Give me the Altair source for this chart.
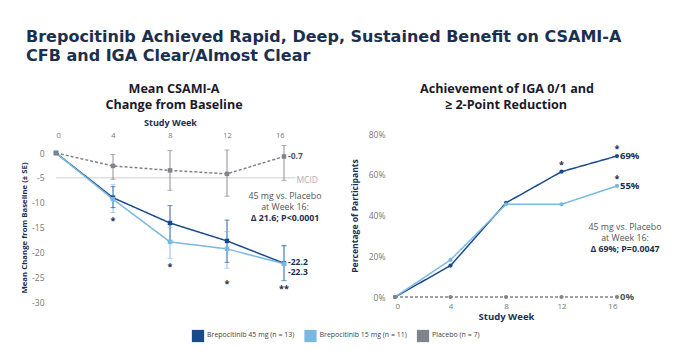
import altair as alt
import pandas as pd

FONT = "Open Sans"
NAVY = "#1c2f52"

# ---------------- data ----------------
weeks = [0, 4, 8, 12, 16]
groups = ["Brepocitinib 45 mg (n = 13)", "Brepocitinib 15 mg (n = 11)", "Placebo (n = 7)"]
colors = ["#1b4a8c", "#7bb8e0", "#80848a"]
legend_idx = [0, 1, 2]

# Mean CSAMI-A change from baseline (± SE)
cfb_45 = [0, -9.0, -14.1, -17.7, -22.2]
cfb_15 = [0, -9.3, -17.9, -19.3, -22.3]
cfb_pbo = [0, -2.6, -3.5, -4.2, -0.7]
cfb_45_hi = [None, -6.8, -10.6, -13.5, -18.6]
cfb_45_lo = [None, -11.0, -17.7, -22.0, -25.7]
cfb_15_hi = [None, -6.4, -15.0, -15.8, -18.8]
cfb_15_lo = [None, -12.0, -21.2, -23.2, -25.7]
cfb_pbo_hi = [None, -0.3, 0.5, 0.6, 1.5]
cfb_pbo_lo = [None, -5.3, -7.5, -8.7, -5.5]
cfb_ticks = [0, -5, -10, -15, -20, -25, -30]
mcid_value = -5
mcid_span = [0, 16.8]

cfb_star_weeks = [4, 8, 12, 16]
cfb_star_vals = [-13.6, -22.9, -26.3, -27.3]
cfb_star_text = ["*", "*", "*", "**"]

cfb_end_vals = [-21.9, -23.9, -0.7]
cfb_end_text = ["-22.2", "-22.3", "-0.7"]
cfb_end_color = [NAVY, NAVY, "#555555"]

# IGA 0/1 and >= 2-point reduction (%)
iga_45 = [0, 15.4, 46.2, 61.5, 69.2]
iga_15 = [0, 18.2, 45.5, 45.5, 54.5]
iga_pbo = [0, 0, 0, 0, 0]
iga_ticks = [0, 20, 40, 60, 80]

iga_star_weeks = [12, 16, 16]
iga_star_vals = [64.8, 72.6, 57.8]

iga_end_vals = [69.2, 54.5, 0]
iga_end_text = ["69%", "55%", "0%"]
iga_end_color = [NAVY, NAVY, "#555555"]

# ---------------- tables ----------------
def long(series, his=None, los=None):
    rows = []
    for gi, g in enumerate(groups):
        for wi, w in enumerate(weeks):
            r = {"week": w, "group": g, "value": series[gi][wi]}
            if his is not None:
                r["hi"] = his[gi][wi]
                r["lo"] = los[gi][wi]
            rows.append(r)
    return pd.DataFrame(rows)

cfb_df = long([cfb_45, cfb_15, cfb_pbo], [cfb_45_hi, cfb_15_hi, cfb_pbo_hi], [cfb_45_lo, cfb_15_lo, cfb_pbo_lo])
cfb_err = cfb_df.dropna(subset=["hi"])
iga_df = long([iga_45, iga_15, iga_pbo])

color = alt.Color("group:N", scale=alt.Scale(domain=groups, range=colors), legend=None)
dash = alt.condition(alt.datum.group == groups[2], alt.value([3, 2]), alt.value([1, 0]))

# ---------------- left panel ----------------
xl_scale = alt.Scale(domain=[0, 16], range=[56, 284], nice=False, zero=False)
yl_scale = alt.Scale(domain=[-30, 0], range=[302, 153], nice=False, zero=False)
xl_axis = alt.Axis(
    orient="top", offset=-142, values=weeks, ticks=False, domain=False, grid=False,
    labelPadding=3, labelFont=FONT, labelFontSize=7.5, labelColor="#777777",
    title="Study Week", titleFont=FONT, titleFontSize=9, titleFontWeight="bold",
    titleColor=NAVY, titlePadding=4,
)
yl_axis = alt.Axis(
    orient="left", offset=-46, values=cfb_ticks, ticks=False, domain=False, grid=False,
    labelPadding=2, labelFont=FONT, labelFontSize=8.5, labelColor="#777777",
    labelExpr="'' + datum.value",
    title="Mean Change from Baseline (± SE)", titleFont=FONT, titleFontSize=7.8,
    titleFontWeight="bold", titleColor=NAVY, titlePadding=3,
)
XL = alt.X("week:Q", scale=xl_scale, axis=xl_axis)
YL = alt.Y("value:Q", scale=yl_scale, axis=yl_axis)

mcid_df = pd.DataFrame({"x": [mcid_span[0]], "x2": [mcid_span[1]], "value": [mcid_value], "t": ["MCID"]})
mcid_rule = alt.Chart(mcid_df).mark_rule(color="#cfcfcf", strokeWidth=1).encode(
    x=alt.X("x:Q", scale=xl_scale, axis=xl_axis), x2="x2:Q", y=YL)
mcid_text = alt.Chart(mcid_df).mark_text(
    align="left", baseline="middle", dx=1, dy=2, font=FONT, fontSize=8.5, color="#b0b0b0"
).encode(x=alt.X("x2:Q", scale=xl_scale, axis=xl_axis), y=YL, text="t:N")

err_rule = alt.Chart(cfb_err).mark_rule(strokeWidth=0.9).encode(
    x=XL, y=alt.Y("lo:Q", scale=yl_scale, axis=yl_axis), y2="hi:Q", color=color)
err_cap_lo = alt.Chart(cfb_err).mark_tick(orient="horizontal", size=5, thickness=0.9).encode(
    x=XL, y=alt.Y("lo:Q", scale=yl_scale, axis=yl_axis), color=color)
err_cap_hi = alt.Chart(cfb_err).mark_tick(orient="horizontal", size=5, thickness=0.9).encode(
    x=XL, y=alt.Y("hi:Q", scale=yl_scale, axis=yl_axis), color=color)

cfb_lines = alt.Chart(cfb_df).mark_line(strokeWidth=1.5).encode(
    x=XL, y=YL, color=color, strokeDash=dash, detail="group:N")
cfb_points = alt.Chart(cfb_df).mark_point(filled=True, shape="square", size=20, opacity=1).encode(
    x=XL, y=YL, color=color)

cfb_star_df = pd.DataFrame({"week": cfb_star_weeks, "value": cfb_star_vals, "t": cfb_star_text})
cfb_stars = alt.Chart(cfb_star_df).mark_text(
    font=FONT, fontSize=9, color=NAVY, baseline="middle", fontWeight="bold"
).encode(x=XL, y=YL, text="t:N")

cfb_end_df = pd.DataFrame({"week": [16, 16, 16], "value": cfb_end_vals, "t": cfb_end_text, "c": cfb_end_color})
cfb_end = alt.Chart(cfb_end_df).mark_text(
    font=FONT, fontSize=8.5, fontWeight="bold", align="left", baseline="middle", dx=4
).encode(x=XL, y=YL, text="t:N", color=alt.Color("c:N", scale=None))

left = alt.layer(mcid_rule, mcid_text, err_rule, err_cap_lo, err_cap_hi, cfb_lines, cfb_points,
                 cfb_stars, cfb_end)

# ---------------- right panel ----------------
xr_scale = alt.Scale(domain=[0, 16], range=[395, 617], nice=False, zero=False)
yr_scale = alt.Scale(domain=[0, 80], range=[297, 134], nice=False, zero=False)
xr_axis = alt.Axis(
    orient="bottom", offset=-52, values=weeks, ticks=False, domain=False, grid=False,
    labelPadding=3, labelFont=FONT, labelFontSize=8, labelColor="#777777",
    title="Study Week", titleFont=FONT, titleFontSize=9.5, titleFontWeight="bold",
    titleColor=NAVY, titlePadding=1,
)
yr_axis = alt.Axis(
    orient="left", offset=-387, values=iga_ticks, ticks=False, domain=False, grid=False,
    labelPadding=2, labelFont=FONT, labelFontSize=8.5, labelColor="#777777",
    labelExpr="datum.value + '%'",
    title="Percentage of Participants", titleFont=FONT, titleFontSize=8.6,
    titleFontWeight="bold", titleColor=NAVY, titlePadding=9,
)
XR = alt.X("week:Q", scale=xr_scale, axis=xr_axis)
YR = alt.Y("value:Q", scale=yr_scale, axis=yr_axis)

iga_lines = alt.Chart(iga_df).mark_line(strokeWidth=1.5).encode(
    x=XR, y=YR, color=color, strokeDash=dash, detail="group:N")
iga_points = alt.Chart(iga_df).mark_point(filled=True, shape="circle", size=18, opacity=1).encode(
    x=XR, y=YR, color=color)

iga_star_df = pd.DataFrame({"week": iga_star_weeks, "value": iga_star_vals, "t": ["*"] * len(iga_star_weeks)})
iga_stars = alt.Chart(iga_star_df).mark_text(
    font=FONT, fontSize=9, color=NAVY, baseline="middle", fontWeight="bold"
).encode(x=XR, y=YR, text="t:N")

iga_end_df = pd.DataFrame({"week": [16, 16, 16], "value": iga_end_vals, "t": iga_end_text, "c": iga_end_color})
iga_end = alt.Chart(iga_end_df).mark_text(
    font=FONT, fontSize=9.5, fontWeight="bold", align="left", baseline="middle", dx=3
).encode(x=XR, y=YR, text="t:N", color=alt.Color("c:N", scale=None))

right = alt.layer(iga_lines, iga_points, iga_stars, iga_end)

# ---------------- legend (bottom) ----------------
leg_df = pd.DataFrame({"i": legend_idx, "group": groups, "row": [0, 0, 0]})
leg_x = alt.X("i:Q", scale=alt.Scale(domain=[0, 2], range=[198, 423], nice=False, zero=False), axis=None)
leg_y = alt.Y("row:Q", scale=alt.Scale(domain=[0, 1], range=[336, 300]), axis=None)
leg_sq = alt.Chart(leg_df).mark_point(filled=True, shape="square", size=150, opacity=1, strokeWidth=0).encode(
    x=leg_x, y=leg_y, color=color)
leg_txt = alt.Chart(leg_df).mark_text(
    align="left", baseline="middle", dx=9, dy=-1, font=FONT, fontSize=7, color="#444444"
).encode(x=leg_x, y=leg_y, text="group:N")
legend = alt.layer(leg_sq, leg_txt)

# ---------------- free text ----------------
def label(text, x, y, size, weight="normal", col=NAVY, align="left", baseline="middle", font=FONT):
    return alt.Chart(pd.DataFrame({"t": [text]})).mark_text(
        font=font, fontSize=size, fontWeight=weight, color=col, align=align, baseline=baseline
    ).encode(x=alt.value(x), y=alt.value(y), text="t:N")

TFONT = "DejaVu Sans"
texts = [
    label("Brepocitinib Achieved Rapid, Deep, Sustained Benefit on CSAMI-A", 26, 41.5, 16, "bold", "#1b2f4f", baseline="alphabetic", font=TFONT),
    label("CFB and IGA Clear/Almost Clear", 26, 60.5, 16, "bold", "#1b2f4f", baseline="alphabetic", font=TFONT),
    label("Mean CSAMI-A", 174, 89, 12.6, "bold", "#1a1a2a", "center"),
    label("Change from Baseline", 174, 105, 12.6, "bold", "#1a1a2a", "center"),
    label("Achievement of IGA 0/1 and", 507, 89, 12.6, "bold", "#1a1a2a", "center"),
    label("≥ 2-Point Reduction", 506, 105, 12.6, "bold", "#1a1a2a", "center"),
    label("45 mg vs. Placebo", 285, 196, 8.8, "normal", "#555555", "center"),
    label("at Week 16:", 285, 207, 8.8, "normal", "#555555", "center"),
    label("Δ 21.6; P<0.0001", 285, 218, 8.8, "bold", NAVY, "center"),
    label("45 mg vs. Placebo", 625, 227, 8.8, "normal", "#555555", "center"),
    label("at Week 16:", 625, 238, 8.8, "normal", "#555555", "center"),
    label("Δ 69%; P=0.0047", 625, 249, 8.8, "bold", NAVY, "center"),
]

chart = alt.layer(left, right, legend, *texts).resolve_scale(
    x="independent", y="independent"
).properties(
    width=680, height=351, autosize=alt.AutoSizeParams(type="none"), padding=0,
    background="white"
).configure_view(stroke=None)

chart.save("out.html", embed_options={"renderer": "svg", "actions": False})
